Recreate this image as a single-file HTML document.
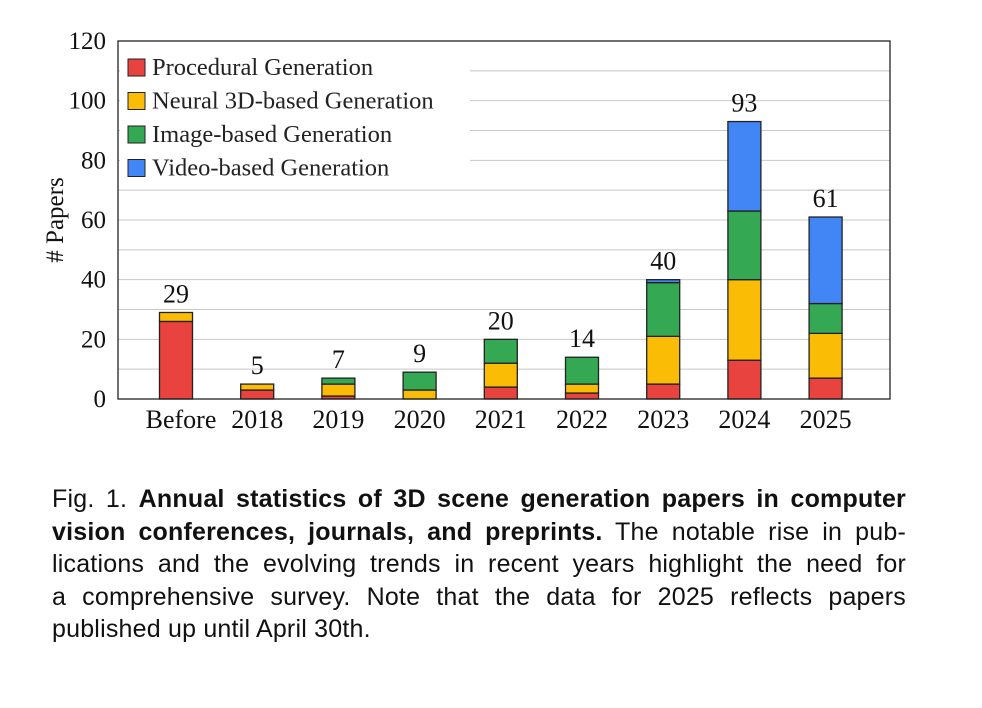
<!DOCTYPE html>
<html><head><meta charset="utf-8"><style>
body{margin:0;background:#fff;width:982px;height:708px;overflow:hidden;font-family:"Liberation Serif",serif}
.cap{position:absolute;left:52px;top:483px;width:854px;font-family:"Liberation Sans",sans-serif;font-size:25px;line-height:32.5px;color:#111;letter-spacing:0.2px}
.cap div{text-align:justify;text-align-last:justify;white-space:nowrap}
.cap div.last{text-align-last:left}
</style></head><body>
<svg id="chart" width="982" height="470" style="position:absolute;left:0;top:0" xmlns="http://www.w3.org/2000/svg"></svg>
<div class="cap">
<div>Fig. 1. <b>Annual statistics of 3D scene generation papers in computer</b></div>
<div><b>vision conferences, journals, and preprints.</b> The notable rise in pub-</div>
<div>lications and the evolving trends in recent years highlight the need for</div>
<div>a comprehensive survey. Note that the data for 2025 reflects papers</div>
<div class="last">published up until April 30th.</div>
</div>
<script>
const categories=["Before","2018","2019","2020","2021","2022","2023","2024","2025"];
const procedural=[26,3,1,0,4,2,5,13,7];
const neural=[3,2,4,3,8,3,16,27,15];
const image=[0,0,2,6,8,9,18,23,10];
const video=[0,0,0,0,0,0,1,30,29];
const totals=[29,5,7,9,20,14,40,93,61];
const yTicks=[0,20,40,60,80,100,120];
const seriesNames=["Procedural Generation","Neural 3D-based Generation","Image-based Generation","Video-based Generation"];
const colors=["#e8433f","#fbbc05","#34a853","#4285f4"];
const NS="http://www.w3.org/2000/svg";
const svg=document.getElementById('chart');
const L=118,R=890,T=41,B=399,yMax=120;
const y=v=>B-(v/yMax)*(B-T);
const x0=176,step=81.2,bw=33;
const x=i=>x0+i*step;
function mk(t,a){const e=document.createElementNS(NS,t);for(const k in a)e.setAttribute(k,a[k]);svg.appendChild(e);return e;}
for(let v=10;v<yMax;v+=10){
 const g=mk('line',{x1:L,x2:R,y1:y(v),y2:y(v),stroke:'#c8c8c8','stroke-width':1});
 
 
}
const lb=mk('rect',{x:120,y:48,width:350,height:140,fill:'#fff'});


yTicks.forEach(v=>{
 const t=mk('text',{x:106,y:y(v)+8,'text-anchor':'end','font-size':25,fill:'#111'});t.textContent=v;
 
 
});
const yt=mk('text',{x:0,y:0,transform:'translate(63,220) rotate(-90)','text-anchor':'middle','font-size':25,fill:'#111'});
yt.textContent='# Papers';


const series=[procedural,neural,image,video];
categories.forEach((c,i)=>{
 let acc=0;
 series.forEach((s,k)=>{
  if(s[i]>0){
   const r=mk('rect',{x:x(i)-bw/2,y:y(acc+s[i]),width:bw,height:y(acc)-y(acc+s[i]),fill:colors[k],stroke:'#222','stroke-width':1.3});
   
   
  }
  acc+=s[i];
 });
 const tl=mk('text',{x:x(i),y:y(totals[i])-10,'text-anchor':'middle','font-size':26,fill:'#111'});tl.textContent=totals[i];
 
 
 const xl=mk('text',{x:i===0?x(i)+5:x(i),y:428,'text-anchor':'middle','font-size':26,fill:'#111'});xl.textContent=c;
 
 
});
const fr=mk('rect',{x:L,y:T,width:R-L,height:B-T,fill:'none',stroke:'#222','stroke-width':1.3});


seriesNames.forEach((n,k)=>{
 const yy=67+k*33.5;
 const sw=mk('rect',{x:128,y:yy-8,width:17,height:17,fill:colors[k],stroke:'#222','stroke-width':1});
 
 
 const t=mk('text',{x:152,y:yy+8,'font-size':24.5,fill:'#222'});t.textContent=n;
 
 
});
</script>
</body></html>
